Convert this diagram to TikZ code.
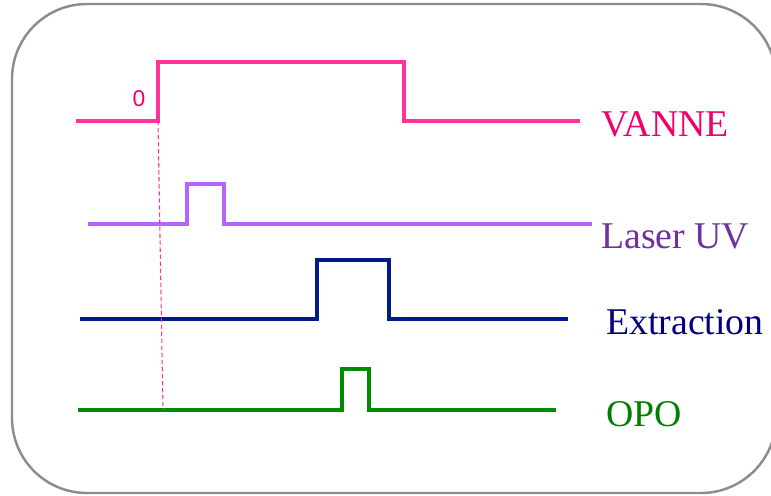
\documentclass[tikz,border=0pt]{standalone}
\usepackage{fontspec}
\setmainfont{Liberation Serif}
\newfontfamily\zerofont{Liberation Sans}
\usetikzlibrary{positioning}
\definecolor{vannepink}{RGB}{255,51,153}
\definecolor{vannetext}{RGB}{240,0,110}
\definecolor{laserline}{RGB}{178,102,255}
\definecolor{lasertext}{RGB}{112,48,160}
\definecolor{extrline}{RGB}{0,26,140}
\definecolor{extrtext}{RGB}{0,0,128}
\definecolor{opoline}{RGB}{0,140,0}
\definecolor{opotext}{RGB}{0,128,0}
\definecolor{framegray}{RGB}{140,140,140}

\begin{document}
\begin{tikzpicture}[
      x=0.02cm, y=-0.02cm,
      signal/.style={line width=2.2pt, color=#1, line join=miter},
      lbl/.style={anchor=base west, inner sep=0pt, text=#1,
                  font=\fontsize{21.5}{24}\selectfont}
  ]
    \useasboundingbox (0,0) rectangle (771,495);
    \clip (0,0) rectangle (771,495);
    % frame
    \draw[framegray, line width=1.4pt, rounded corners=1.5cm]
      (12,4) rectangle (776,493);

    % signals
    \draw[signal=vannepink] (76,121) -- (158,121) -- (158,62) -- (404,62)
      -- (404,121) -- (580,121);
    \draw[signal=laserline] (88,224) -- (187,224) -- (187,184) -- (224,184)
      -- (224,224) -- (592,224);
    \draw[signal=extrline] (80,319) -- (317,319) -- (317,260) -- (389,260)
      -- (389,319) -- (568,319);
    \draw[signal=opoline] (78,410) -- (342,410) -- (342,369) -- (369,369)
      -- (369,410) -- (556,410);

    % time origin
    \coordinate (t0) at (158,121);
    \coordinate (t0end) at (163,410);
    \draw[vannepink, line width=0.6pt, dash pattern=on 2.5pt off 1.5pt] (t0) -- (t0end);
    \node[text=vannetext, font=\zerofont\fontsize{13}{15}\selectfont,
          inner sep=0pt] (zero) at (139,98.5) {0};

    % labels
    \node[lbl=vannetext] (vanne) at (601,136) {VANNE};
    \node[lbl=lasertext] (laser) at (601,248) {Laser UV};
    \node[lbl=extrtext]  (extr)  at (606,334) {Extraction};
    \node[lbl=opotext]   (opo)   at (606,426) {OPO};
\end{tikzpicture}
\end{document}
